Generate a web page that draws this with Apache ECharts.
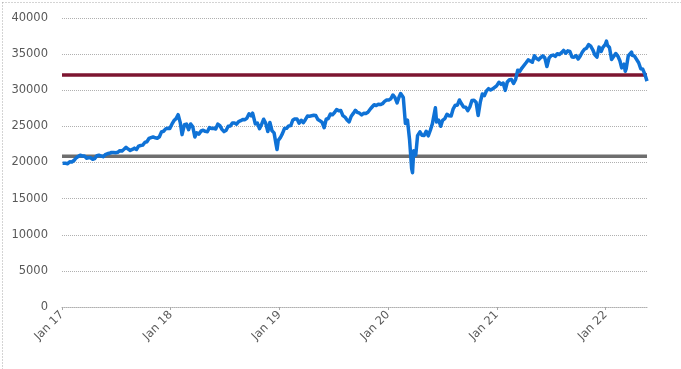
<!DOCTYPE html>
<html><head><meta charset="utf-8">
<script src="https://cdn.jsdelivr.net/npm/echarts@6/dist/echarts.min.js"></script>
<style>html,body{margin:0;padding:0;background:#fff}#c{width:681px;height:369px}</style>
</head><body><div id="c"></div>
<script>
// Weekly closes (approx.)
const dates2017 = ['2017-01-03','2017-01-06','2017-01-13','2017-01-20','2017-01-27','2017-02-03','2017-02-10','2017-02-17','2017-02-24','2017-03-03','2017-03-10','2017-03-17','2017-03-24','2017-03-31','2017-04-07','2017-04-14','2017-04-21','2017-04-28','2017-05-05','2017-05-12','2017-05-19','2017-05-26','2017-06-02','2017-06-09','2017-06-16','2017-06-23','2017-06-30','2017-07-07','2017-07-14','2017-07-21','2017-07-28','2017-08-04','2017-08-11','2017-08-18','2017-08-25','2017-09-01','2017-09-08','2017-09-15','2017-09-22','2017-09-29','2017-10-06','2017-10-13','2017-10-20','2017-10-27','2017-11-03','2017-11-10','2017-11-17','2017-11-24','2017-12-01','2017-12-08','2017-12-15','2017-12-22','2017-12-29'];
const values2017 = [19880,19964,19886,19827,20094,20071,20269,20624,20822,21005,20903,20915,20597,20663,20656,20453,20548,20941,21007,20897,20804,21080,21206,21272,21384,21395,21350,21414,21638,21580,21830,22092,21858,21675,21814,21988,21798,22268,22350,22405,22773,22871,23329,23434,23539,23422,23358,23558,24231,24329,24652,24754,24719];
const dates2018 = ['2018-01-05','2018-01-12','2018-01-19','2018-01-26','2018-02-02','2018-02-08','2018-02-16','2018-02-23','2018-03-02','2018-03-09','2018-03-16','2018-03-23','2018-03-29','2018-04-06','2018-04-13','2018-04-20','2018-04-27','2018-05-04','2018-05-11','2018-05-18','2018-05-25','2018-06-01','2018-06-08','2018-06-15','2018-06-22','2018-06-29','2018-07-06','2018-07-13','2018-07-20','2018-07-27','2018-08-03','2018-08-10','2018-08-17','2018-08-24','2018-08-31','2018-09-07','2018-09-14','2018-09-21','2018-09-28','2018-10-03','2018-10-12','2018-10-19','2018-10-26','2018-11-02','2018-11-09','2018-11-16','2018-11-23','2018-11-30','2018-12-07','2018-12-14','2018-12-21','2018-12-24','2018-12-28'];
const values2018 = [25296,25803,26072,26617,25521,23860,25219,25310,24538,25336,24946,23533,24103,23933,24360,24463,24311,24263,24831,24715,24753,24635,25317,25090,24581,24271,24456,25019,25058,25451,25463,25313,25669,25790,25965,25917,26154,26744,26458,26828,25340,25444,24688,25271,25989,25413,24286,25538,24389,24101,22445,21792,23062];
const dates2019 = ['2019-01-04','2019-01-11','2019-01-18','2019-01-25','2019-02-01','2019-02-08','2019-02-15','2019-02-22','2019-03-01','2019-03-08','2019-03-15','2019-03-22','2019-03-29','2019-04-05','2019-04-12','2019-04-18','2019-04-26','2019-05-03','2019-05-10','2019-05-17','2019-05-24','2019-05-31','2019-06-07','2019-06-14','2019-06-21','2019-06-28','2019-07-05','2019-07-12','2019-07-19','2019-07-26','2019-08-02','2019-08-09','2019-08-16','2019-08-23','2019-08-30','2019-09-06','2019-09-13','2019-09-20','2019-09-27','2019-10-04','2019-10-11','2019-10-18','2019-10-25','2019-11-01','2019-11-08','2019-11-15','2019-11-22','2019-11-29','2019-12-06','2019-12-13','2019-12-20','2019-12-27'];
const values2019 = [23433,23996,24706,24737,25064,25106,25883,26031,26026,25450,25849,25502,25929,26425,26412,26559,26543,26505,25942,25764,25586,24815,25984,26090,26719,26600,26922,27332,27154,27192,26485,26287,25886,25629,26403,26797,27220,26935,26820,26573,26817,26770,26958,27347,27681,28005,27876,28051,28015,28135,28455,28645];
const dates2020 = ['2020-01-03','2020-01-10','2020-01-17','2020-01-24','2020-01-31','2020-02-07','2020-02-12','2020-02-21','2020-02-28','2020-03-06','2020-03-13','2020-03-20','2020-03-23','2020-03-27','2020-04-03','2020-04-09','2020-04-17','2020-04-24','2020-05-01','2020-05-08','2020-05-15','2020-05-22','2020-05-29','2020-06-08','2020-06-12','2020-06-19','2020-06-26','2020-07-02','2020-07-10','2020-07-17','2020-07-24','2020-07-31','2020-08-07','2020-08-14','2020-08-21','2020-08-28','2020-09-04','2020-09-11','2020-09-18','2020-09-25','2020-10-02','2020-10-09','2020-10-16','2020-10-23','2020-10-30','2020-11-06','2020-11-13','2020-11-20','2020-11-27','2020-12-04','2020-12-11','2020-12-18','2020-12-24','2020-12-31'];
const values2020 = [28635,28824,29348,28990,28256,29103,29551,28992,25409,25864,23186,19174,18592,21637,21053,23719,24242,23775,23724,24331,23685,24465,25383,27572,25606,25871,25016,25827,26075,26672,26470,26428,27433,27931,27930,28654,28133,27666,27657,27174,27683,28587,28606,28336,26502,28323,29480,29263,29910,30218,30046,30179,30200,30606];
const dates2021 = ['2021-01-08','2021-01-15','2021-01-22','2021-01-29','2021-02-05','2021-02-12','2021-02-19','2021-02-26','2021-03-05','2021-03-12','2021-03-19','2021-03-26','2021-04-01','2021-04-09','2021-04-16','2021-04-23','2021-04-30','2021-05-07','2021-05-14','2021-05-21','2021-05-28','2021-06-04','2021-06-11','2021-06-18','2021-06-25','2021-07-02','2021-07-09','2021-07-16','2021-07-23','2021-07-30','2021-08-06','2021-08-13','2021-08-20','2021-08-27','2021-09-03','2021-09-10','2021-09-17','2021-09-24','2021-10-01','2021-10-08','2021-10-15','2021-10-22','2021-10-29','2021-11-05','2021-11-12','2021-11-19','2021-11-26','2021-12-03','2021-12-10','2021-12-17','2021-12-23','2021-12-31'];
const values2021 = [31098,30814,30997,29983,31148,31458,31494,30932,31496,32779,32628,33073,33153,33801,34200,34043,33875,34778,34382,34208,34529,34756,34480,33290,34433,34786,34870,34688,35062,34935,35209,35515,35120,35456,35369,34607,34584,34798,34326,34746,35295,35677,35820,36328,36100,35602,34899,34580,35971,35365,35950,36338];
const dates2022 = ['2022-01-04','2022-01-07','2022-01-14','2022-01-21','2022-01-27','2022-02-04','2022-02-11','2022-02-18','2022-02-24','2022-03-04','2022-03-08','2022-03-11','2022-03-18','2022-03-29','2022-04-01','2022-04-08','2022-04-14','2022-04-22','2022-04-29','2022-05-06','2022-05-13','2022-05-20'];
const values2022 = [36800,36231,35912,34265,34160,35089,34738,34079,33100,33614,32632,32945,34754,35294,34818,34721,34451,33811,32977,32899,32197,31262];

const refHigh = 32100;   // dark red reference line
const refLow = 20850;    // grey reference line
const xMinDate = '2017-01-01', xMaxDate = '2022-05-20';

const dates = [].concat(dates2017,dates2018,dates2019,dates2020,dates2021,dates2022);
const values = [].concat(values2017,values2018,values2019,values2020,values2021,values2022);
// date string -> fractional year (x axis unit)
function yr(d){
  const p=d.split('-').map(Number);
  const s=Date.UTC(p[0],0,1), e=Date.UTC(p[0]+1,0,1), t=Date.UTC(p[0],p[1]-1,p[2]);
  return p[0]+(t-s)/(e-s);
}
const seriesData = dates.map((d,i)=>[yr(d), values[i]]);
const xMin = yr(xMinDate), xMax = yr(xMaxDate);

const chart = echarts.init(document.getElementById('c'), null, {renderer:'canvas'});
const font = 'DejaVu Sans';
chart.setOption({
  animation:false,
  backgroundColor:'#fff',
  grid:{left:62,right:34,top:18,bottom:62,containLabel:false},
  xAxis:{
    type:'value', min:xMin, max:xMax, interval:1,
    axisLine:{show:true,lineStyle:{color:'#b0b0b0',type:[1,1],width:1}},
    axisTick:{show:true,length:3,lineStyle:{color:'#a8a8a8',width:1}},
    axisLabel:{rotate:45,color:'#595959',fontFamily:font,fontSize:11.5,margin:6,showMaxLabel:false,
      formatter:function(v){return (Math.abs(v-Math.round(v))<1e-6)?'Jan '+String(Math.round(v)).slice(2):'';}},
    splitLine:{show:false}
  },
  yAxis:{
    type:'value',min:0,max:40000,interval:5000,
    axisLine:{show:false},axisTick:{show:false},
    axisLabel:{color:'#595959',fontFamily:font,fontSize:11.5,margin:14,formatter:function(v){return String(v);}},
    splitLine:{show:true,lineStyle:{color:'#b0b0b0',type:[1,1],width:1}}
  },
  series:[
    {type:'line',data:[[xMin,refLow],[xMax,refLow]],symbol:'none',lineStyle:{color:'#6e6e6e',width:3.5},z:2,silent:true},
    {type:'line',data:[[xMin,refHigh],[xMax,refHigh]],symbol:'none',lineStyle:{color:'#7d1530',width:3.5},z:2,silent:true},
    {type:'line',data:seriesData,symbol:'none',lineStyle:{color:'#0f72d6',width:3.5,join:'round'},z:3}
  ],
  graphic:[{type:'rect',left:0,top:0,shape:{x:0,y:0,width:679,height:367},style:{fill:'none',stroke:'#a8a8a8',lineWidth:1,lineDash:[1,2]},silent:true,z:-1}]
});
</script></body></html>
